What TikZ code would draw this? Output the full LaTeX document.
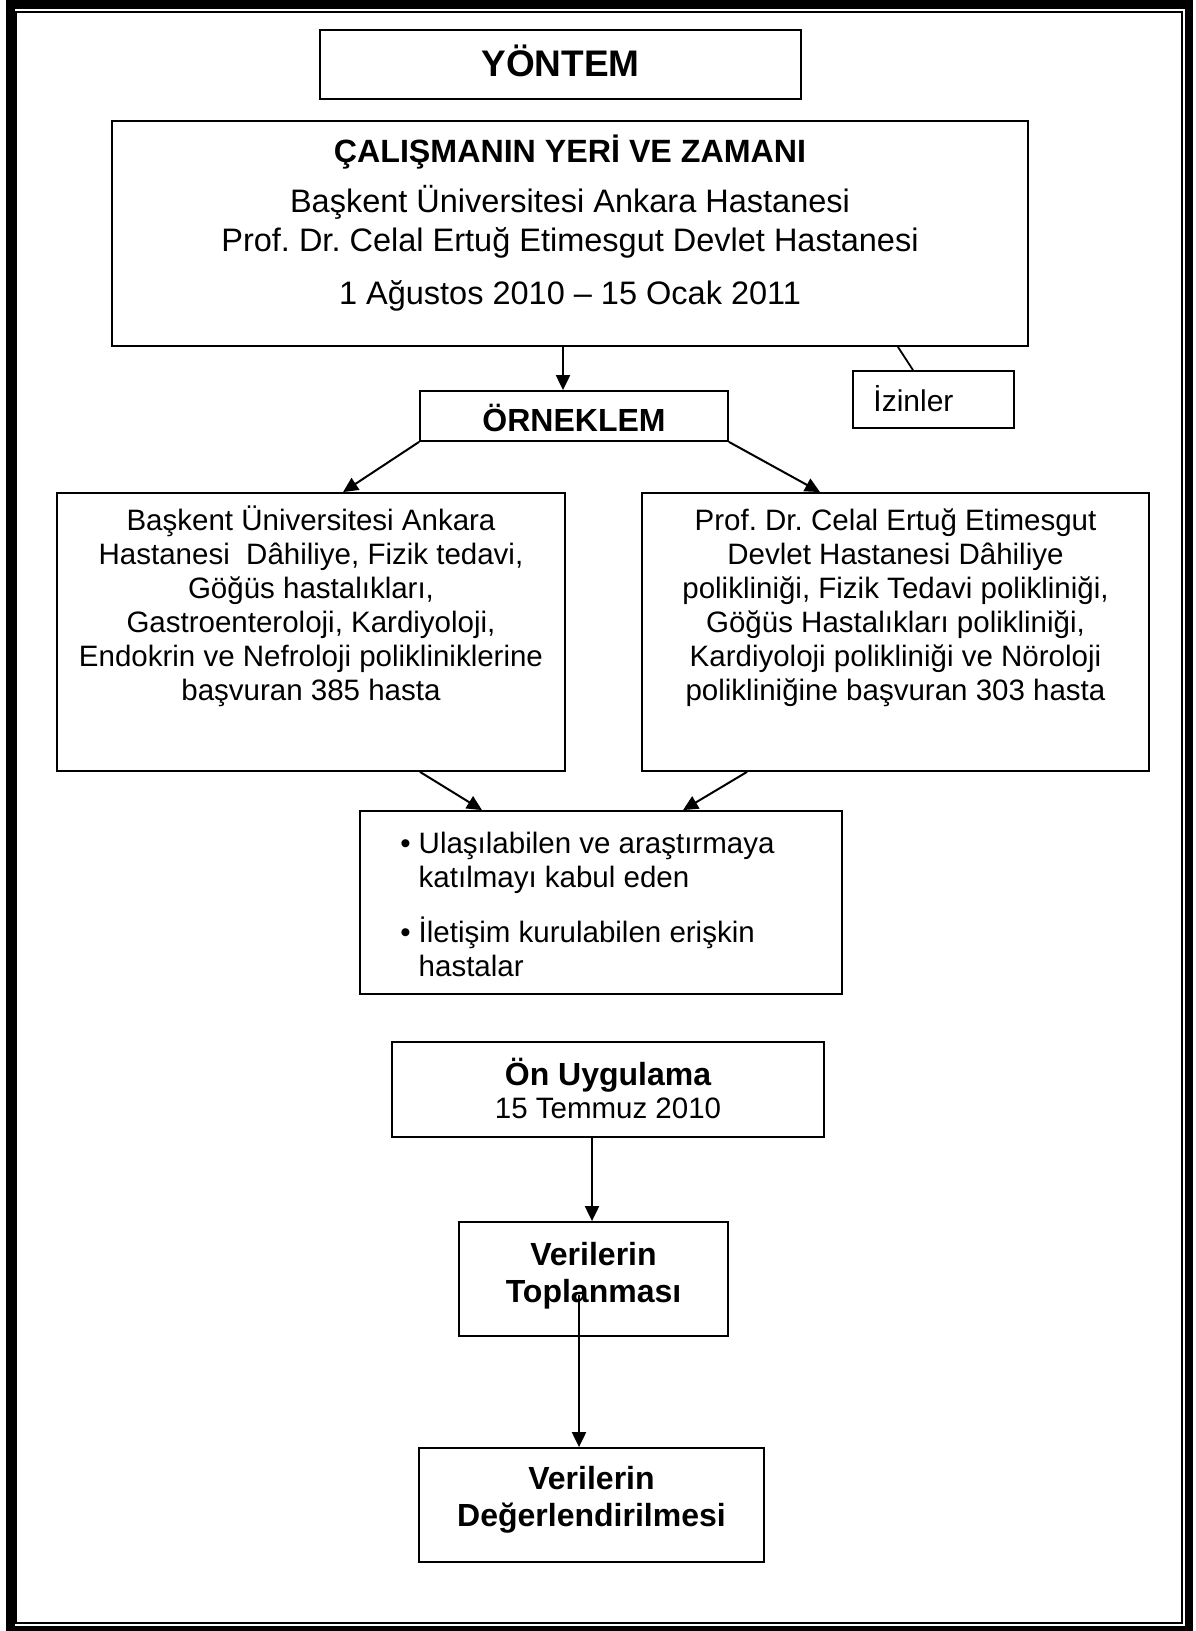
\documentclass[tikz,border=0pt]{standalone}
\usepackage{fontspec}
\setmainfont{Liberation Sans}
\usetikzlibrary{arrows.meta}
\frenchspacing
\begin{document}
\begin{tikzpicture}[x=0.5pt,y=-0.5pt,
  box/.style={draw, line width=0.9pt, inner sep=0pt, anchor=center},
  txt/.style={inner sep=0pt, align=center},
  arr/.style={line width=1pt, -{Triangle[length=7.5pt,width=7pt]}},
  ln/.style={line width=0.9pt},
  fa/.style={font=\fontsize{14.75}{17}\selectfont},
  fb/.style={font=\fontsize{16.25}{19.5}\selectfont},
  fbb/.style={font=\fontsize{16.1}{19}\selectfont\bfseries},
]
\useasboundingbox (0,0) rectangle (1195,1631);
\draw[line width=4.25pt] (10.5,4.5) rectangle (1189,1630);
\draw[line width=0.85pt] (16.2,11.8) rectangle (1182.3,1623.3);

% boxes
\node[box, minimum width=240.5pt, minimum height=34.5pt] (yontem) at (560.5,64.5) {};
\node[box, minimum width=458pt, minimum height=112.5pt] (calisma) at (570,233.5) {};
\node[box, minimum width=80.5pt, minimum height=28.5pt] (izin) at (933.5,399.5) {};
\node[box, minimum width=154pt, minimum height=25pt] (ornek) at (574,416) {};
\node[box, minimum width=254pt, minimum height=139pt] (left) at (311,632) {};
\node[box, minimum width=253.5pt, minimum height=139pt] (right) at (895.5,632) {};
\node[box, minimum width=241pt, minimum height=91.5pt] (bullet) at (601,902.5) {};
\node[box, minimum width=216pt, minimum height=47.5pt] (onuyg) at (608,1089.5) {};
\node[box, minimum width=134.5pt, minimum height=57pt] (topl) at (593.5,1279) {};
\node[box, minimum width=172.5pt, minimum height=57pt] (deger) at (591.5,1505) {};

% texts
\node[txt, anchor=base, font=\fontsize{18.5}{22}\selectfont\bfseries] (tyontem) at (560.5,77) {YÖNTEM};
\node[txt, anchor=base, fbb] (tcal1) at (570,163) {ÇALIŞMANIN YERİ VE ZAMANI};
\node[txt, fb] (tcal2) at (570,221.5) {Başkent Üniversitesi Ankara Hastanesi\\Prof. Dr. Celal Ertuğ Etimesgut Devlet Hastanesi};
\node[txt, anchor=base, fb] (tcal3) at (570,305) {1 Ağustos 2010 – 15 Ocak 2011};
\node[txt, anchor=base west, font=\fontsize{15}{17}\selectfont] (tizin) at (873,411) {İzinler};
\node[txt, anchor=base, font=\fontsize{16}{19}\selectfont\bfseries] (tornek) at (574,431) {ÖRNEKLEM};
\node[txt, fa] (tleft) at (311,606) {Başkent Üniversitesi Ankara\\Hastanesi\ \ Dâhiliye, Fizik tedavi,\\Göğüs hastalıkları,\\Gastroenteroloji, Kardiyoloji,\\Endokrin ve Nefroloji polikliniklerine\\başvuran 385 hasta};
\node[txt, fa] (tright) at (895.5,608) {Prof. Dr. Celal Ertuğ Etimesgut\\Devlet Hastanesi Dâhiliye\\polikliniği, Fizik Tedavi polikliniği,\\Göğüs Hastalıkları polikliniği,\\Kardiyoloji polikliniği ve Nöroloji\\polikliniğine başvuran 303 hasta};
\node[inner sep=0pt, anchor=north west, fa] (tbul) at (400,829.2) {\begin{tabular}{@{}l@{\hspace{4pt}}l@{}}•&Ulaşılabilen ve araştırmaya\\&katılmayı kabul eden\\[9.5pt]•&İletişim kurulabilen erişkin\\&hastalar\end{tabular}};
\node[txt, anchor=base, font=\fontsize{16}{19}\selectfont\bfseries] (tonu1) at (608,1085) {Ön Uygulama};
\node[txt, anchor=base, fa] (tonu2) at (608,1118) {15 Temmuz 2010};
\node[txt, font=\fontsize{16}{18.5}\selectfont\bfseries] (ttopl) at (593.5,1276) {Verilerin\\Toplanması};
\node[txt, font=\fontsize{16}{18.75}\selectfont\bfseries] (tdeg) at (591.5,1500) {Verilerin\\Değerlendirilmesi};

% connectors
\draw[arr] ([xshift=-3.5pt]calisma.south) -- ([xshift=-3.5pt]calisma.south |- ornek.north);
\draw[ln] ([xshift=-65.5pt]calisma.south east) -- ([xshift=-10.25pt]izin.north);
\draw[arr] (ornek.south west) -- ([xshift=16pt]left.north);
\draw[arr] (ornek.south east) -- ([xshift=-37.75pt]right.north);
\draw[arr] ([xshift=54.5pt]left.south) -- ([xshift=-59.5pt]bullet.north);
\draw[arr] ([xshift=-74.25pt]right.south) -- ([xshift=41pt]bullet.north);
\draw[arr] ([xshift=-8pt]onuyg.south) -- ([xshift=-8pt]onuyg.south |- topl.north);
\coordinate (c1) at (579,1295);
\draw[arr] (c1) -- (c1 |- deger.north);
\end{tikzpicture}
\end{document}
